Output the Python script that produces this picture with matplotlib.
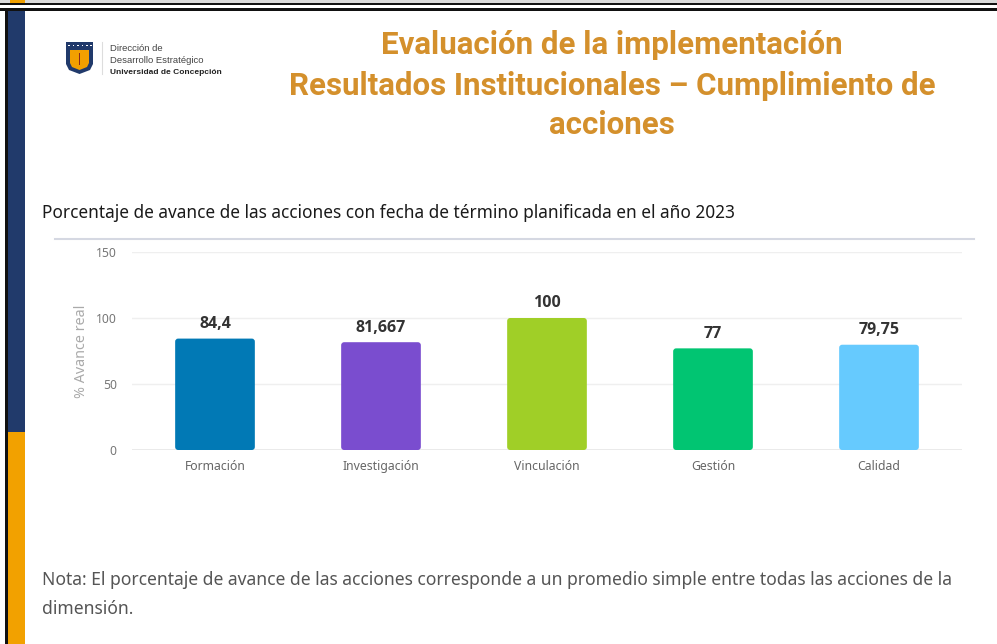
import matplotlib
matplotlib.use("Agg")
import matplotlib.pyplot as plt
from matplotlib.patches import Rectangle, FancyBboxPatch, Polygon

categories = ["Formación", "Investigación", "Vinculación", "Gestión", "Calidad"]
values = [84.4, 81.667, 100, 77, 79.75]
colors = ["#0179B5", "#7A4DCF", "#A0CF27", "#01C572", "#66CAFE"]
yticks = [0, 50, 100, 150]

W, H = 997, 644
fig = plt.figure(figsize=(W / 100, H / 100), dpi=100)
fig.patch.set_facecolor("white")

# ---------- decoration layer in pixel coordinates ----------
bg = fig.add_axes([0, 0, 1, 1], zorder=0)
bg.set_xlim(0, W)
bg.set_ylim(H, 0)
bg.axis("off")

# top strip (previous slide edge)
bg.add_patch(Rectangle((0, 0), W, 3, color="#d9d9d9", lw=0))
bg.add_patch(Rectangle((10, 0), 15, 3, color="#F0A000", lw=0))
bg.add_patch(Rectangle((0, 3), W, 1.5, color="#111111", lw=0))
bg.add_patch(Rectangle((0, 7.5), W, 3, color="#111111", lw=0))
# left border and coloured bars
bg.add_patch(Rectangle((5, 8), 3, H - 8, color="#111111", lw=0))
bg.add_patch(Rectangle((8, 10.5), 16.5, 421.5, color="#213A6B", lw=0))
bg.add_patch(Rectangle((8, 432), 16.5, H - 432, color="#F2A100", lw=0))

# logo shield
shield = Polygon([(66, 42), (93, 42), (93, 64), (90, 70), (79.5, 74), (69, 70), (66, 64)],
                 closed=True, color="#213A6B", lw=0)
bg.add_patch(shield)
inner = Polygon([(70, 50), (89, 50), (89, 63), (87, 67), (79.5, 70), (72, 67), (70, 63)],
                closed=True, color="#F2A000", lw=0)
bg.add_patch(inner)
for xd in [69, 73.5, 78, 82.5, 87, 91]:
    bg.add_patch(Rectangle((xd - 0.8, 44.5), 1.6, 1.6, color="white", lw=0))
bg.add_patch(Rectangle((78.8, 53), 1.6, 12, color="#8B2A1A", lw=0))
bg.plot([102, 102], [42, 74], color="#dddddd", lw=0.8)
bg.text(110, 48, "Dirección de", fontsize=6.8, color="#444444", va="center", family="Liberation Sans")
bg.text(110, 60, "Desarrollo Estratégico", fontsize=6.8, color="#444444", va="center", family="Liberation Sans")
bg.text(110, 72, "Universidad de Concepción", fontsize=6.0, color="#222222", va="center",
        family="Liberation Sans", fontweight="bold")

# title
title_lines = ["Evaluación de la implementación",
               "Resultados Institucionales – Cumplimiento de",
               "acciones"]
for yy, line in zip([45, 86, 125], title_lines):
    bg.text(612, yy, line, fontsize=22.5, color="#D4902C", fontweight="bold",
            ha="center", va="center", family="Roboto")

# subtitle
bg.text(42, 213, "Porcentaje de avance de las acciones con fecha de término planificada en el año 2023",
        fontsize=12.4, color="#1a1a1a", va="center", family="Noto Sans")
# separator line
bg.plot([55, 974], [239, 239], color="#d5d8e2", lw=1.5)

# note
bg.text(42, 580, "Nota: El porcentaje de avance de las acciones corresponde a un promedio simple entre todas las acciones de la",
        fontsize=12.6, color="#555555", va="center", family="Noto Sans")
bg.text(42, 609, "dimensión.", fontsize=12.6, color="#555555", va="center", family="Noto Sans")

# ---------- chart ----------
ax_left, ax_right = 132, 962
ax_top, ax_bottom = 252, 450
ax = fig.add_axes([ax_left / W, 1 - ax_bottom / H, (ax_right - ax_left) / W, (ax_bottom - ax_top) / H],
                  zorder=1)
ax.patch.set_alpha(0)
x = list(range(len(categories)))
bars = ax.bar(x, values, width=0.48, color=colors, zorder=2)
ax.set_xlim(-0.5, len(categories) - 0.5)
ax.set_ylim(0, 150)

# rounded corners
px_per_x = (ax_right - ax_left) / len(categories)
px_per_y = (ax_bottom - ax_top) / 150
r = 3.0 / px_per_x
aspect = px_per_x / px_per_y
for b, c in zip(bars, colors):
    bx, by, bw, bh = b.get_x(), b.get_y(), b.get_width(), b.get_height()
    b.set_visible(False)
    ax.add_patch(FancyBboxPatch((bx, by), bw, bh, boxstyle=f"round,pad=0,rounding_size={r}",
                                mutation_aspect=aspect, color=c, lw=0, zorder=2))

for xi, v in zip(x, values):
    ax.text(xi, v + 5, f"{v:g}".replace(".", ","), ha="center", va="bottom",
            fontsize=11.5, fontweight="bold", color="#333333", family="Open Sans")

ax.set_yticks(yticks)
ax.set_yticklabels([str(t) for t in yticks], fontsize=8.8, color="#777777", family="Noto Sans")
ax.set_xticks(x)
ax.set_xticklabels(categories, fontsize=8.8, color="#666666", family="Noto Sans")
ax.tick_params(axis="both", length=0)
ax.tick_params(axis="y", pad=11)
ax.tick_params(axis="x", pad=7)
ax.grid(axis="y", color="#efefef", lw=1, zorder=0)
for s in ax.spines.values():
    s.set_visible(False)
ax.axhline(0, color="#e6e6e6", lw=1.2, zorder=1)
ax.set_ylabel("% Avance real", fontsize=10.3, color="#aaaaaa", family="Noto Sans", labelpad=5)

fig.savefig("out.png", dpi=100)
